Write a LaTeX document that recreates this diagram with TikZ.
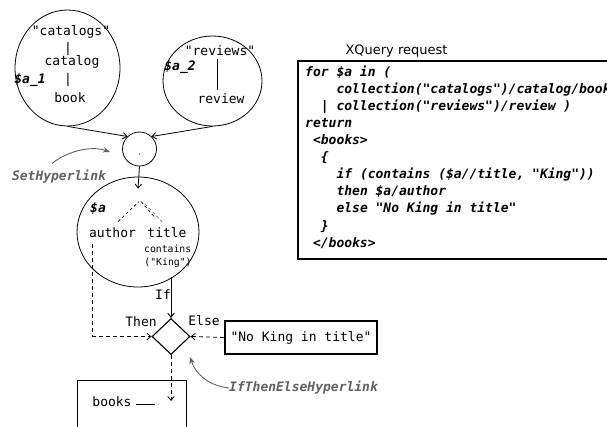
\documentclass[tikz,border=0pt]{standalone}
\usepackage{fontspec}
\setmainfont{DejaVu Sans}
\newfontfamily\mono[ItalicFont={DejaVu Sans Mono Oblique},BoldFont={DejaVu Sans Mono Bold},BoldItalicFont={DejaVu Sans Mono Bold Oblique}]{DejaVu Sans Mono}
\usetikzlibrary{shapes.geometric,arrows.meta}
\tikzset{
  txt/.style={inner sep=0pt, font=\mono\fontsize{13}{15}\selectfont, text height=9.5pt, text depth=3pt},
  var/.style={inner sep=0pt, font=\mono\fontsize{13}{15}\bfseries\itshape\selectfont, text height=9.5pt, text depth=3pt},
  small/.style={inner sep=0pt, font=\mono\fontsize{9.8}{11}\selectfont, text height=7pt, text depth=2.5pt},
  code/.style={var, anchor=west},
  bubble/.style={ellipse, draw, line width=0.8pt, inner sep=0pt},
  arr/.style={-{Straight Barb[length=4pt,width=6.5pt]}, line width=0.8pt},
  dsh/.style={dash pattern=on 4pt off 3pt},
  tdsh/.style={dash pattern=on 3pt off 2.5pt, line width=0.7pt},
  hyper/.style={draw=black!62, line width=0.9pt, -{Stealth[length=7pt,width=5.5pt,fill=black!62]}},
  hlabel/.style={var, text=black!62},
}
\begin{document}
\begin{tikzpicture}[x=1pt,y=-1pt]
\clip (0,0) rectangle (607,426);
\fill[white] (0,0) rectangle (607,426);

% --- catalogs bubble
\node[bubble, minimum width=105pt, minimum height=116pt] (c1) at (67.5,68) {};
\node[txt] (catA) at (71,32) {"catalogs"};
\node[txt] (barA) at (68,49) {|};
\node[txt] (catB) at (72,62) {catalog};
\node[txt] (barB) at (68,80) {|};
\node[txt] (book) at (70,99) {book};
\node[var] (a1) at (30,80) {\$a\_1};

% --- reviews bubble
\node[bubble, minimum width=99pt, minimum height=90pt] (c2) at (212.5,81) {};
\node[txt] (revA) at (220,52) {"reviews"};
\node[txt] (revB) at (221,100) {review};
\node[var] (a2) at (180,67) {\$a\_2};
\draw[line width=0.8pt] ([xshift=-3pt,yshift=-1pt]revA.south) -- ([xshift=-4pt,yshift=4pt]revB.north);

% --- union circle
\node[circle, draw, line width=0.8pt, minimum size=34pt, inner sep=0pt] (sc) at (139.5,149) {};
\fill[gray] (139.5,154) circle (0.8pt);
\draw[arr] (c1.south) -- (sc.134);
\draw[arr] (c2.south) -- (sc.46);

% --- $a bubble
\node[bubble, minimum width=122pt, minimum height=110pt] (bc) at (138,232) {};
\draw[arr] (sc.south) -- ([yshift=-12pt]bc.north);
\node[var] (va) at (98,209) {\$a};
\node[txt] (author) at (112.5,234) {author};
\node[txt] (title) at (167,234) {title};
\node[small] (cont) at (167.7,250) {contains};
\node[small] (king) at (168,263) {("King")};
\coordinate (apex) at (139,201.5);
\draw[tdsh] ([xshift=5.5pt,yshift=6pt]author.north) -- (apex);
\draw[tdsh] ([xshift=2pt]apex) -- ([xshift=-12pt,yshift=10pt]title.north);
\draw[tdsh, black!55] ([xshift=6pt,yshift=-2.5pt]apex) -- ([xshift=-5pt,yshift=6pt]title.north);

% --- if then else
\node[diamond, draw, line width=1.1pt, minimum width=38pt, minimum height=36pt, inner sep=0pt] (dia) at (171,336.5) {};
\draw[arr, line width=0.9pt, shorten <=9pt] (dia.north |- king.south) -- (dia.north);
\node[txt] (iflab) at (163,296) {If};
\node[txt] (thenlab) at (141,323) {Then};
\node[txt] (elselab) at (204,322) {Else};
\draw[arr, dsh] ([xshift=4pt,yshift=-4pt]author.south west) |- (dia.west);
\node[draw, line width=2pt, minimum width=152pt, minimum height=33pt, inner sep=0pt, font=\mono\fontsize{13}{15}\selectfont] (nk) at (301,337.5) {"No King in title"};
\draw[arr, dsh] (nk.west) -- (dia.east);

% --- books
\node[draw, line width=0.8pt, minimum width=109pt, minimum height=60pt, anchor=north west, inner sep=0pt] (bk) at (77,380) {};
\node[txt] (books) at (112,403) {books};
\coordinate (bt) at (171,401);
\draw[arr, dsh] (dia.south) -- (bt);
\draw[line width=0.8pt] ([xshift=4pt,yshift=-1pt]books.east) -- ++(19,0);

% --- hyperlink annotations
\node[hlabel] (sh) at (59,177) {SetHyperlink};
\coordinate (shTip) at (110,152);
\draw[hyper] ([xshift=-7pt,yshift=7pt]sh.north) .. controls (66,152) and (90,145) .. (shTip);
\node[hlabel, anchor=west] (ite) at (229,388) {IfThenElseHyperlink};
\coordinate (iteTip) at (190,357);
\draw[hyper] (ite.west) .. controls (210,386) and (196,375) .. (iteTip);

% --- XQuery request
\node[inner sep=0pt, font=\fontsize{13}{15}\selectfont] (xq) at (396.5,51.5) {XQuery request};
\node[draw, line width=2.2pt, minimum width=360pt, minimum height=198pt, anchor=north west, inner sep=0pt] (qbox) at (296.5,60) {};
\def\cw{7.83}
\node[code] (q1) at (305,73) {for \$a in (};
\node[code] (q2) at (305+4*\cw,90) {collection("catalogs")/catalog/book};
\node[code] (q3) at (305+2*\cw,107) {| collection("reviews")/review )};
\node[code] (q4) at (305,124) {return};
\node[code] (q5) at (305+1*\cw,141) {<books>};
\node[code] (q6) at (305+2*\cw,158) {\{};
\node[code] (q7) at (305+4*\cw,175) {if (contains (\$a//title, "King"))};
\node[code] (q8) at (305+4*\cw,192) {then \$a/author};
\node[code] (q9) at (305+4*\cw,209) {else "No King in title"};
\node[code] (q10) at (305+2*\cw,227) {\}};
\node[code] (q11) at (305+1*\cw,244) {</books>};
\end{tikzpicture}
\end{document}
